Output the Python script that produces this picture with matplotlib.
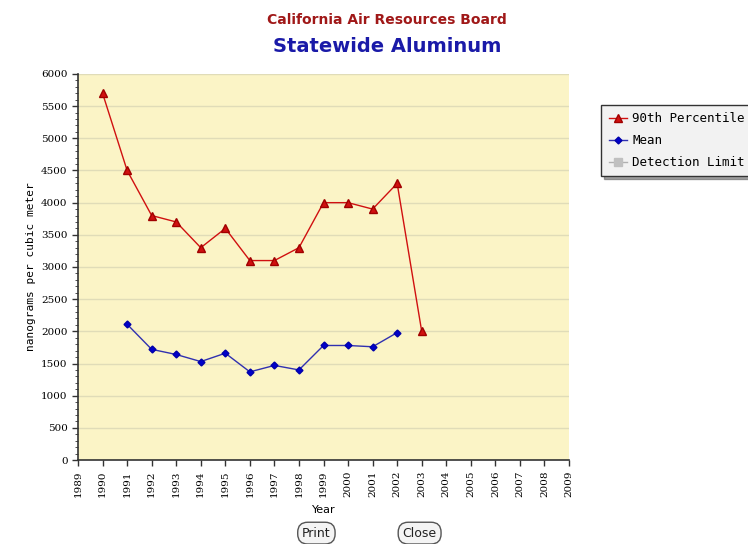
import matplotlib
matplotlib.use('Agg')
import matplotlib.pyplot as plt
from matplotlib.ticker import MultipleLocator

# data
years_p90 = [1990, 1991, 1992, 1993, 1994, 1995, 1996, 1997, 1998, 1999, 2000, 2001, 2002, 2003]
p90 = [5700, 4500, 3800, 3700, 3300, 3600, 3100, 3100, 3300, 4000, 4000, 3900, 4300, 2000]
years_mean = [1991, 1992, 1993, 1994, 1995, 1996, 1997, 1998, 1999, 2000, 2001, 2002]
mean = [2110, 1720, 1640, 1530, 1660, 1370, 1470, 1400, 1780, 1780, 1760, 1980]
year_ticks = list(range(1989, 2010))
y_ticks = list(range(0, 6001, 500))

fig = plt.figure(figsize=(7.48, 5.44), dpi=100)
fig.patch.set_facecolor('white')
ax = fig.add_axes([0.1043, 0.1544, 0.6564, 0.7096])
ax.set_facecolor('#fbf4c6')

ax.plot(years_p90, p90, color='#d01010', lw=1.0, marker='^', ms=5.5,
        mfc='#d01010', mec='#a00000', label='90th Percentile', zorder=3)
ax.plot(years_mean, mean, color='#3030b0', lw=1.0, marker='D', ms=3.5,
        mfc='#0000cc', mec='#0000aa', label='Mean', zorder=3)
ax.plot([], [], color='#b0b0b0', lw=1.0, marker='s', ms=6,
        mfc='#c0c0c0', mec='#c0c0c0', label='Detection Limit')

ax.set_xlim(1989, 2009)
ax.set_ylim(0, 6000)
ax.set_xticks(year_ticks)
ax.set_xticklabels([str(y) for y in year_ticks], rotation=90, fontsize=7.5,
                   family='DejaVu Serif')
ax.set_yticks(y_ticks)
ax.set_yticklabels([str(v) for v in y_ticks], fontsize=7.5, family='DejaVu Serif')
ax.yaxis.set_minor_locator(MultipleLocator(100))
ax.tick_params(axis='both', which='major', length=4, width=1, color='#333333')
ax.tick_params(axis='y', which='minor', length=2, width=0.6, color='#333333')
ax.grid(axis='y', color='#e0dcb8', lw=1.0)
ax.set_axisbelow(True)
for s in ['top', 'right']:
    ax.spines[s].set_visible(False)
for s in ['left', 'bottom']:
    ax.spines[s].set_color('#333333')
    ax.spines[s].set_linewidth(1.2)

ax.set_ylabel('nanograms per cubic meter', family='DejaVu Sans Mono', fontsize=8)
ax.set_xlabel('Year', fontsize=8, family='DejaVu Sans', labelpad=6)

fig.text(0.517, 0.963, 'California Air Resources Board', ha='center', va='center',
         color='#a01818', fontsize=10, fontweight='bold', family='DejaVu Sans')
fig.text(0.517, 0.915, 'Statewide Aluminum', ha='center', va='center',
         color='#1a1aa8', fontsize=14, fontweight='bold', family='DejaVu Sans')

leg = fig.legend(loc='upper left', bbox_to_anchor=(0.8035, 0.807),
                 borderaxespad=0,
                 prop={'family': 'DejaVu Sans Mono', 'size': 9},
                 frameon=True, fancybox=False, shadow=True, handlelength=1.5,
                 borderpad=0.6, labelspacing=0.7, handletextpad=0.4)
leg.get_frame().set_edgecolor('#333333')
leg.get_frame().set_facecolor('#f2f2f2')

# buttons below the chart
for label, xc in [('Print', 0.423), ('Close', 0.561)]:
    fig.text(xc, 0.02, label, ha='center', va='center', fontsize=9,
             family='DejaVu Sans', color='#222222',
             bbox=dict(boxstyle='round,pad=0.35,rounding_size=0.8',
                       fc='#f4f4f4', ec='#555555', lw=1.0))

fig.savefig('out.png', dpi=100)
